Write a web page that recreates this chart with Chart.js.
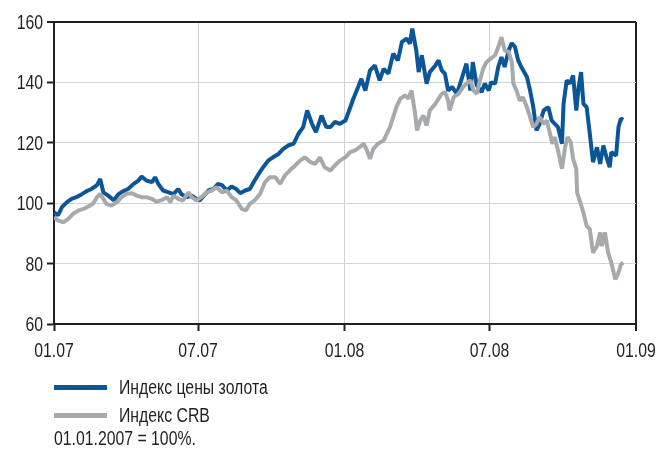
<!DOCTYPE html>
<html lang="ru">
<head>
<meta charset="utf-8">
<script src="https://cdn.jsdelivr.net/npm/chart.js@4/dist/chart.umd.min.js"></script>
<style>
  html, body { margin: 0; padding: 0; background: #fff; }
  #wrap { position: relative; width: 659px; height: 455px; }
  canvas { position: absolute; left: 0; top: 0; }
  .txt { position: absolute; font-family: 'Liberation Sans', Arial, sans-serif;
         font-size: 20px; color: #231f20; line-height: 20px; white-space: nowrap;
         transform: scaleX(0.79); transform-origin: 0 0; }
  .swatch { position: absolute; height: 5px; width: 53px; }
</style>
</head>
<body>
<div id="wrap">
  <canvas id="chart" width="659" height="455"></canvas>
  <div class="swatch" style="left:54px; top:385px; background:#0a5697;"></div>
  <div class="txt" style="left:119px; top:377px;">Индекс цены золота</div>
  <div class="swatch" style="left:54px; top:413px; background:#a7a9ac;"></div>
  <div class="txt" style="left:119px; top:405px;">Индекс CRB</div>
  <div class="txt" style="left:54px; top:428px;">01.01.2007 = 100%.</div>
</div>
<script>
// Days elapsed since 01.01.2007 and index levels (01.01.2007 = 100%)
const goldDays = [0,5,10,16,22,28,35,41,47,54,58,62,68,75,81,87,93,100,106,110,116,123,127,131,137,144,150,156,160,167,173,179,183,188,194,200,206,211,217,223,229,234,240,246,252,257,263,269,275,282,288,294,301,307,313,318,324,329,336,342,347,353,359,366,370,376,382,386,391,397,403,409,414,420,426,432,437,443,447,450,455,458,462,468,472,479,483,487,491,495,500,506,512,518,523,526,531,537,541,546,549,554,558,562,566,571,575,579,583,587,594,598,602,606,610,615,621,625,629,633,638,640,644,648,652,656,659,662,665,669,673,677,682,686,690,694,698,700,706,709,712,715];
const goldValues = [97,96,98.7,100.3,101.4,102,103,104,104.7,106,108,103.6,102.5,101,103,104,104.7,106.4,107.5,108.8,107.5,107,108.6,106.4,104.2,103.6,103,104.7,103,102,102.5,101.4,100.9,102.5,104.2,104.7,106.4,106,104.2,105.5,104.7,103.3,104.2,104.7,107.5,109.7,112,114.1,115.2,116.3,118,119.1,119.7,123,125.2,130.7,126.3,123.5,129,125.2,125.2,126.9,126.3,127.4,130.2,134.6,138.5,141.2,137.3,144,145.6,140.7,144.5,142.9,149.5,147.3,153.4,154.5,152.8,157.8,150.6,143.4,149,139.6,143.4,145.6,147.3,144,142.9,137.3,138.5,136.2,141.2,146.2,137.3,146.7,139,136.8,139.6,137.3,140,139.6,145.1,148.4,145.1,150.6,153,151.7,147.3,145.1,141.8,137.3,131.8,124.1,126.3,130.7,131.8,127.4,126.3,125.2,119.7,132.9,140.7,139.6,142.3,130.7,138.5,143.4,132.9,131.8,123,113.6,118.5,113,119.1,115.2,111.9,116.9,115.8,125.2,128,127.6];

const crbDays = [0,5,12,18,24,31,37,43,49,54,58,62,66,72,79,85,91,98,104,110,116,123,129,135,142,146,150,156,162,169,173,179,185,192,198,204,211,217,223,229,236,241,246,252,259,265,271,278,284,290,296,303,309,315,322,328,334,340,347,353,359,366,372,378,384,389,393,397,401,407,414,418,422,426,430,435,441,445,449,453,456,460,464,468,472,479,483,487,491,495,497,502,508,514,518,523,527,531,535,539,543,548,554,558,562,566,571,575,577,581,585,589,594,598,602,606,610,615,619,623,626,629,633,638,642,645,649,652,656,657,661,665,669,673,677,682,686,688,692,696,700,705,709,712,715];
const crbValues = [95.4,94.3,93.7,94.8,96.5,97.6,98.1,98.9,99.8,102,103.1,101.4,99.8,99.2,100.3,102,103.1,103.3,102.5,102,102,101.4,100.5,101,102,100.3,102.5,101.4,100.9,103.6,102,100.9,102,103.6,104.2,105.3,103.6,104.2,102,100.9,98.1,97.6,99.8,100.9,103.1,107,108.6,108.6,106.4,109.2,110.8,112.5,114.1,115.2,113.6,113,115.2,111.9,110.8,112.5,114.1,115.2,116.9,117.5,118.6,119.7,117.5,114.7,118,119.7,120.8,123,125.2,128.5,131.8,134.6,135.7,134.6,137.3,130.7,124.1,127.4,129,125.7,130.7,132.9,134.6,136.2,136.8,134,130.7,135.1,136.2,138.5,139.6,140.7,137.3,136.2,140.7,144.5,146.7,147.8,149,151.7,155,150.6,150.1,146.7,139.6,137.3,134,135.1,131.8,128.5,125.2,126.3,128.5,126.3,127.4,123,119.7,121.9,117.5,111.4,118.6,121.9,120.3,114.7,111.4,103.6,100.3,96.9,92.5,91.4,83.6,85.8,90.3,85.8,90.3,83.6,80.3,74.8,77,79.7,80.3];

// X-axis tick positions (days) and their labels
const tickDays = [0, 181, 365, 547, 731];
const tickLabels = ['01.07', '07.07', '01.08', '07.08', '01.09'];
const yTicks = [60, 80, 100, 120, 140, 160];

const seriesNames = ['Индекс цены золота', 'Индекс CRB'];
const toPoints = (xs, ys) => xs.map((x, i) => ({ x, y: ys[i] }));

const INK = '#231f20';
const GRID = '#d3d3d3';
const LABEL_FONT = "20px 'Liberation Sans', Arial, sans-serif";
const NARROW = 0.79;

// Axis labels in a narrow face: regular face squeezed horizontally
const narrowTickLabels = {
  id: 'narrowTickLabels',
  afterDraw(chart) {
    const { ctx, scales: { x, y } } = chart;
    ctx.save();
    ctx.font = LABEL_FONT;
    ctx.fillStyle = INK;
    ctx.textBaseline = 'alphabetic';
    const put = (text, px, py, align) => {
      ctx.save();
      ctx.translate(px, py);
      ctx.scale(NARROW, 1);
      ctx.textAlign = align;
      ctx.fillText(text, 0, 0);
      ctx.restore();
    };
    tickDays.forEach((d, i) => put(tickLabels[i], x.getPixelForValue(d), x.top + 33, 'center'));
    yTicks.forEach(v => put(String(v), y.right - 11, y.getPixelForValue(v) + 7, 'right'));
    ctx.restore();
  }
};

new Chart(document.getElementById('chart'), {
  type: 'line',
  data: {
    datasets: [
      { label: seriesNames[0], data: toPoints(goldDays, goldValues), borderColor: '#0a5697',
        borderWidth: 4, borderJoinStyle: 'bevel', pointRadius: 0, tension: 0, order: 1 },
      { label: seriesNames[1], data: toPoints(crbDays, crbValues), borderColor: '#a7a9ac',
        borderWidth: 4, borderJoinStyle: 'bevel', pointRadius: 0, tension: 0, order: 0 }
    ]
  },
  plugins: [narrowTickLabels],
  options: {
    responsive: false,
    animation: false,
    events: [],
    layout: { padding: { left: 0, right: 23, top: 22, bottom: 0 } },
    plugins: { legend: { display: false }, tooltip: { enabled: false } },
    scales: {
      x: {
        type: 'linear',
        min: 0, max: 731,
        afterBuildTicks: s => { s.ticks = tickDays.map(v => ({ value: v })); },
        afterFit: s => { s.height = 455 - 324; },
        ticks: { display: false },
        grid: {
          color: c => (c.tick && c.tick.value === 731 ? INK : GRID),
          lineWidth: c => (c.tick && c.tick.value === 731 ? 2 : 1),
          tickColor: INK, tickLength: 7, tickWidth: 2, drawTicks: true
        },
        border: { color: INK, width: 2 }
      },
      y: {
        min: 60, max: 160,
        afterBuildTicks: s => { s.ticks = yTicks.map(v => ({ value: v })); },
        afterFit: s => { s.width = 54; },
        ticks: { display: false },
        grid: {
          color: c => (c.tick && c.tick.value === 160 ? INK : GRID),
          lineWidth: c => (c.tick && c.tick.value === 160 ? 2 : 1),
          tickColor: INK, tickLength: 7, tickWidth: 2, drawTicks: true
        },
        border: { color: INK, width: 2 }
      }
    }
  }
});
</script>
</body>
</html>
